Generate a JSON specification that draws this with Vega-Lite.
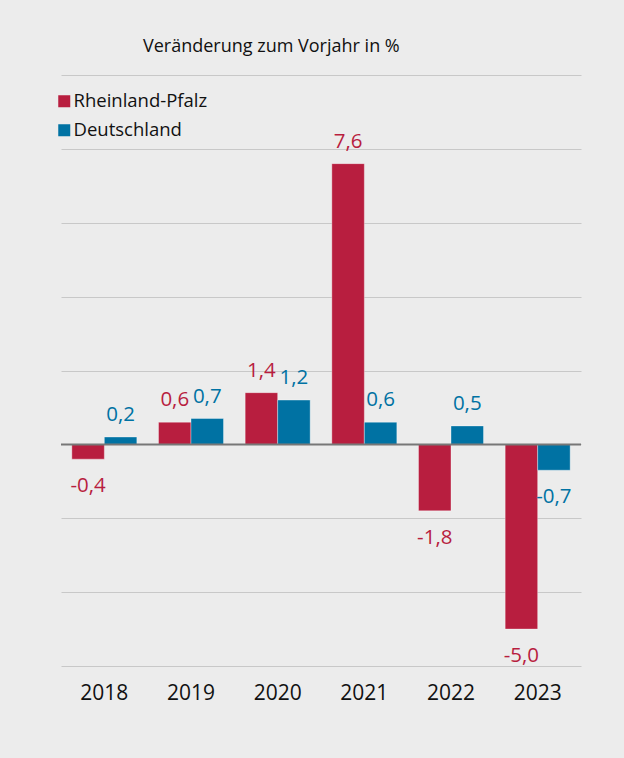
{
  "$schema": "https://vega.github.io/schema/vega-lite/v6.json",
  "width": 520,
  "height": 591,
  "autosize": {"type": "none"},
  "padding": {"left": 61, "top": 75, "right": 43, "bottom": 92},
  "background": "#ececec",
  "config": {
    "view": {"stroke": null},
    "font": "Open Sans",
    "locale": {"number": {"decimal": ",", "thousands": ".", "grouping": [3], "currency": ["", " €"], "minus": "-"}}
  },
  "title": {
    "text": "Veränderung zum Vorjahr in %",
    "anchor": "start",
    "dx": 88,
    "offset": 5,
    "fontSize": 18,
    "fontWeight": "normal",
    "color": "#111111",
    "baseline": "alphabetic"
  },
  "data": {
    "values": [
      {"Jahr": "2018", "Region": "Rheinland-Pfalz", "Wert": -0.4},
      {"Jahr": "2018", "Region": "Deutschland", "Wert": 0.2},
      {"Jahr": "2019", "Region": "Rheinland-Pfalz", "Wert": 0.6},
      {"Jahr": "2019", "Region": "Deutschland", "Wert": 0.7},
      {"Jahr": "2020", "Region": "Rheinland-Pfalz", "Wert": 1.4},
      {"Jahr": "2020", "Region": "Deutschland", "Wert": 1.2},
      {"Jahr": "2021", "Region": "Rheinland-Pfalz", "Wert": 7.6},
      {"Jahr": "2021", "Region": "Deutschland", "Wert": 0.6},
      {"Jahr": "2022", "Region": "Rheinland-Pfalz", "Wert": -1.8},
      {"Jahr": "2022", "Region": "Deutschland", "Wert": 0.5},
      {"Jahr": "2023", "Region": "Rheinland-Pfalz", "Wert": -5.0},
      {"Jahr": "2023", "Region": "Deutschland", "Wert": -0.7}
    ]
  },
  "layer": [
    {
      "mark": {"type": "bar", "stroke": "#ffffff", "strokeWidth": 1, "strokeOpacity": 0.35},
      "encoding": {
        "x": {
          "field": "Jahr", "type": "nominal",
          "scale": {"paddingInner": 0.25, "paddingOuter": 0.125},
          "axis": {"title": null, "labelAngle": 0, "labelFontSize": 21, "labelColor": "#111111", "ticks": false, "domain": false, "labelPadding": 16, "grid": false}
        },
        "xOffset": {"field": "Region", "type": "nominal", "sort": ["Rheinland-Pfalz", "Deutschland"]},
        "y": {
          "field": "Wert", "type": "quantitative",
          "scale": {"domain": [-6, 10], "nice": false, "zero": false},
          "axis": {"title": null, "values": [-6, -4, -2, 0, 2, 4, 6, 8, 10], "labels": false, "ticks": false, "domain": false, "gridColor": "#c8c8c8", "gridWidth": 1}
        },
        "color": {
          "field": "Region", "type": "nominal",
          "scale": {"domain": ["Rheinland-Pfalz", "Deutschland"], "range": ["#b81e3f", "#0072a3"]},
          "legend": {
            "title": null, "orient": "none", "legendX": -6, "legendY": 17,
            "symbolType": "square", "symbolSize": 144, "symbolStrokeWidth": 0,
            "labelFontSize": 18.5, "labelColor": "#111111", "labelOffset": 0, "rowPadding": 10
          }
        }
      }
    },
    {
      "data": {"values": [{"Null": 0}]},
      "mark": {"type": "rule", "color": "#777777", "strokeWidth": 2},
      "encoding": {"y": {"field": "Null", "type": "quantitative"}}
    },
    {
      "transform": [{"filter": "datum.Wert >= 0"}],
      "mark": {"type": "text", "fontSize": 20.5, "baseline": "middle", "dy": -22},
      "encoding": {
        "x": {"field": "Jahr", "type": "nominal"},
        "xOffset": {"field": "Region", "type": "nominal", "sort": ["Rheinland-Pfalz", "Deutschland"]},
        "y": {"field": "Wert", "type": "quantitative"},
        "text": {"field": "Wert", "type": "quantitative", "format": ".1f"},
        "color": {"field": "Region", "type": "nominal", "legend": null}
      }
    },
    {
      "transform": [{"filter": "datum.Wert < 0"}],
      "mark": {"type": "text", "fontSize": 20.5, "baseline": "middle", "dy": 27},
      "encoding": {
        "x": {"field": "Jahr", "type": "nominal"},
        "xOffset": {"field": "Region", "type": "nominal", "sort": ["Rheinland-Pfalz", "Deutschland"]},
        "y": {"field": "Wert", "type": "quantitative"},
        "text": {"field": "Wert", "type": "quantitative", "format": ".1f"},
        "color": {"field": "Region", "type": "nominal", "legend": null}
      }
    }
  ]
}
